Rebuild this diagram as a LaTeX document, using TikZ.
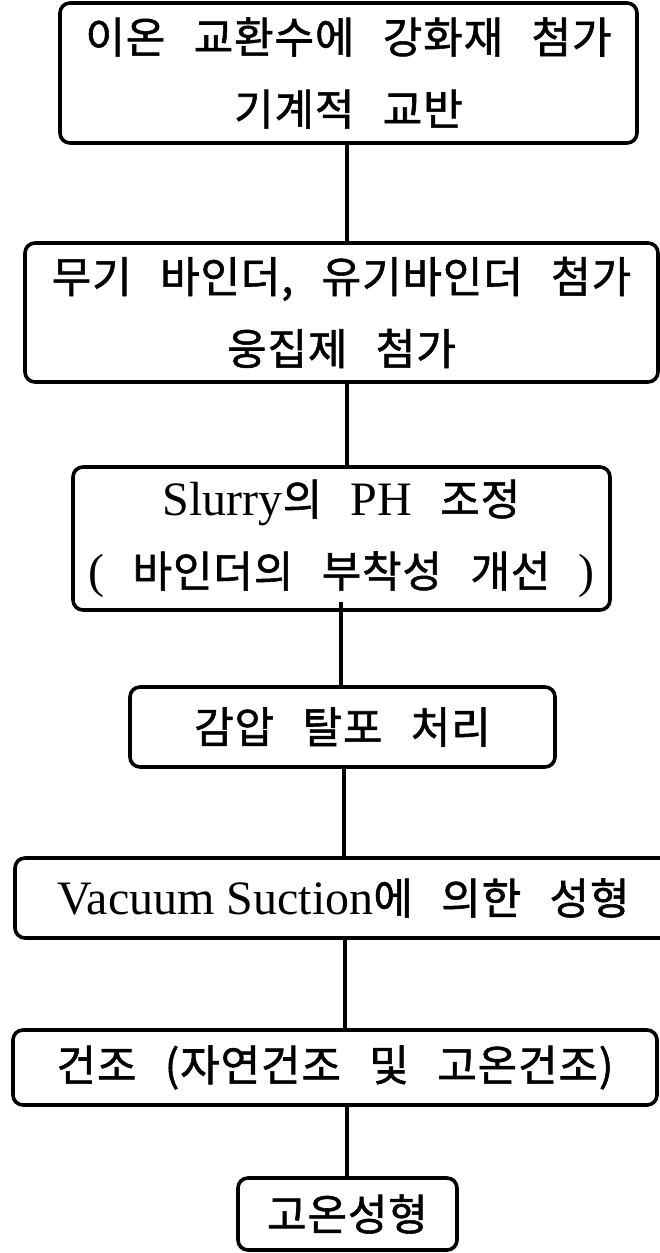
\documentclass[tikz,border=0pt]{standalone}
\usepackage{fontspec}
\setmainfont{Liberation Serif}
\newfontfamily\kr{Noto Sans CJK KR}[WordSpace=2.7, LetterSpace=2, FakeBold=1.3]
\newcommand\lat[1]{{\rmfamily\fontsize{48}{72}\selectfont #1}}

\begin{document}
\begin{tikzpicture}[x=1pt,y=-1pt,
  stage/.style={draw, line width=3.6pt, rounded corners=10pt, inner sep=0pt,
    align=center, font=\kr\fontsize{43}{72}\selectfont},
  link/.style={line width=3.4pt}]
\useasboundingbox (0,0) rectangle (660,1253);
\clip (0,0) rectangle (660,1253);

% process stages, top to bottom
\node[stage, minimum width=577pt, minimum height=140pt] (b1) at (348.5,73)
  {이온 교환수에 강화재 첨가\\기계적 교반};
\node[stage, minimum width=633pt, minimum height=139pt] (b2) at (341.5,312.5)
  {무기 바인더, 유기바인더 첨가\\웅집제 첨가};
\node[stage, minimum width=537pt, minimum height=143pt] (b3) at (341.5,538.5)
  {\lat{Slurry}의 \lat{PH} 조정\\\lat{(} 바인더의 부착성 개선 \lat{)}};
\node[stage, minimum width=425pt, minimum height=80pt] (b4) at (342.5,727)
  {감압 탈포 처리};
\node[stage, minimum width=657pt, minimum height=80pt] (b5) at (343.5,898)
  {\lat{Vacuum Suction}에 의한 성형};
\node[stage, minimum width=644pt, minimum height=75pt] (b6) at (335,1067.5)
  {건조 (자연건조 및 고온건조)};
\node[stage, minimum width=219pt, minimum height=72pt] (b7) at (347.5,1214)
  {고온성형};

% connector columns
\coordinate (c1) at (347,0);
\coordinate (c3) at (341,0);
\coordinate (c4) at (344,0);
\coordinate (c5) at (345,0);

\draw[link] (b1.south -| c1) -- (b2.north -| c1);
\draw[link] (b2.south -| c1) -- (b3.north -| c1);
\draw[link] ([yshift=10pt]b3.south -| c3) -- (b4.north -| c3);
\draw[link] (b4.south -| c4) -- (b5.north -| c4);
\draw[link] (b5.south -| c5) -- (b6.north -| c5);
\draw[link] (b6.south -| c1) -- (b7.north -| c1);
\end{tikzpicture}
\end{document}
